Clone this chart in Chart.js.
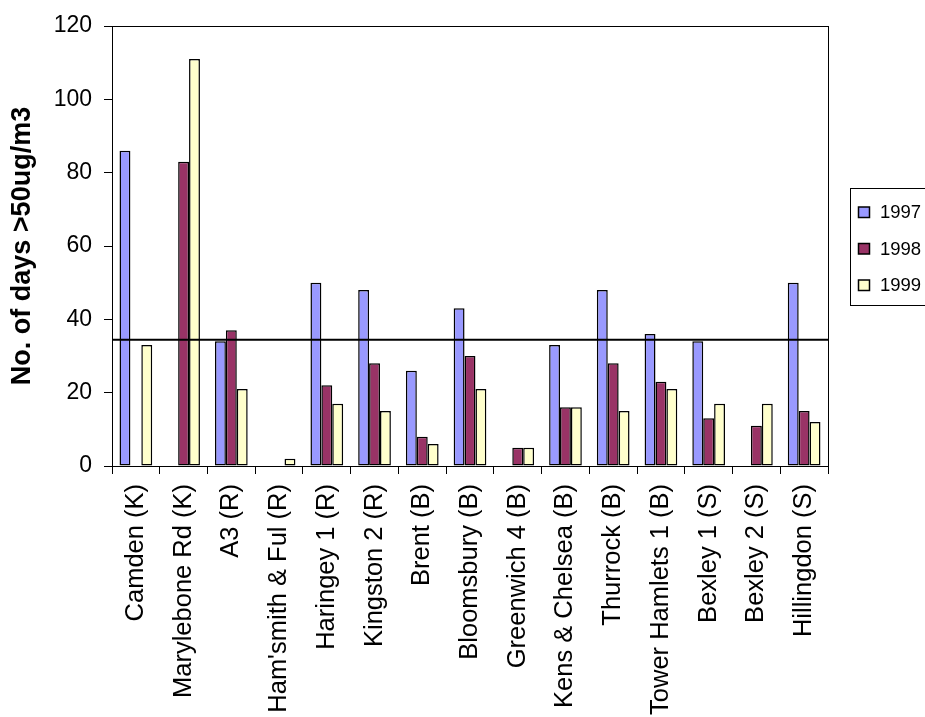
<!DOCTYPE html>
<html><head><meta charset="utf-8">
<script src="https://cdn.jsdelivr.net/npm/chart.js@4/dist/chart.umd.min.js"></script>
<style>html,body{margin:0;padding:0;background:#fff;overflow:hidden}canvas{display:block}</style>
</head><body>
<canvas id="c" width="925" height="717" style="width:925px;height:717px"></canvas>
<script>
const categories = ['Camden (K)', 'Marylebone Rd (K)', 'A3 (R)', "Ham'smith & Ful (R)", 'Haringey 1 (R)', 'Kingston 2 (R)', 'Brent (B)', 'Bloomsbury (B)', 'Greenwich 4 (B)', 'Kens & Chelsea (B)', 'Thurrock (B)', 'Tower Hamlets 1 (B)', 'Bexley 1 (S)', 'Bexley 2 (S)', 'Hillingdon (S)'];
const seriesNames = ['1997', '1998', '1999'];
const values1997 = [86, null, 34, null, 50, 48, 26, 43, null, 33, 48, 36, 34, null, 50];
const values1998 = [null, 83, 37, null, 22, 28, 8, 30, 5, 16, 28, 23, 13, 11, 15];
const values1999 = [33, 111, 21, 2, 17, 15, 6, 21, 5, 16, 15, 21, 17, 17, 12];
const limitValue = 34.4;
const yMin = 0, yMax = 120, yStep = 20;
const yTitle = 'No. of days >50ug/m3';

const colors = ['#9999FF', '#993366', '#FFFFCC'];
const FONT = "'Liberation Sans', Arial, sans-serif";

const limitLine = {
  id: 'limitLine',
  afterDatasetsDraw(chart) {
    const {ctx, chartArea: a, scales: {y}} = chart;
    const py = y.getPixelForValue(limitValue);
    ctx.save();
    ctx.strokeStyle = '#000';
    ctx.lineWidth = 2;
    ctx.beginPath();
    ctx.moveTo(a.left, py);
    ctx.lineTo(a.right, py);
    ctx.stroke();
    ctx.restore();
  }
};

const plotBorder = {
  id: 'plotBorder',
  afterDraw(chart) {
    const {ctx, chartArea: a} = chart;
    ctx.save();
    ctx.strokeStyle = '#000';
    ctx.lineWidth = 1;
    ctx.strokeRect(Math.round(a.left) + 0.5, Math.round(a.top) + 0.5, Math.round(a.right - a.left), Math.round(a.bottom - a.top));
    ctx.restore();
  }
};

const boxLegend = {
  id: 'boxLegend',
  afterDraw(chart) {
    const {ctx, chartArea: a} = chart;
    const left = Math.round(a.right) + 22;
    const h = 117;
    const top = Math.round((a.top + a.bottom) / 2 - h / 2);
    ctx.save();
    ctx.strokeStyle = '#000';
    ctx.lineWidth = 1;
    ctx.strokeRect(left + 0.5, top + 0.5, 100, h);
    ctx.font = '18.5px ' + FONT;
    ctx.textBaseline = 'middle';
    ctx.textAlign = 'left';
    chart.data.datasets.forEach((d, i) => {
      const cy = top + 24 + i * 36.5;
      ctx.fillStyle = d.backgroundColor;
      ctx.fillRect(left + 8.5, cy - 5, 11, 10.5);
      ctx.lineWidth = 1.5;
      ctx.strokeStyle = '#000';
      ctx.strokeRect(left + 8.5, cy - 5, 11, 10.5);
      ctx.fillStyle = '#000';
      ctx.fillText(d.label, left + 30, cy + 1);
    });
    ctx.restore();
  }
};

const barSeries = [values1997, values1998, values1999];
const datasets = barSeries.map((vals, i) => ({
  label: seriesNames[i],
  data: vals,
  backgroundColor: colors[i],
  borderColor: '#000',
  borderWidth: 1.5,
  borderSkipped: false,
  barPercentage: 1.0,
  categoryPercentage: 0.685
}));

Chart.defaults.font.family = FONT;
Chart.defaults.color = '#000';

new Chart(document.getElementById('c'), {
  type: 'bar',
  data: { labels: categories, datasets },
  options: {
    responsive: false,
    animation: false,
    devicePixelRatio: 1,
    layout: { padding: { left: 0, top: 26, right: 97, bottom: 0 } },
    plugins: { legend: { display: false }, tooltip: { enabled: false } },
    scales: {
      x: {
        type: 'category',
        offset: true,
        afterFit(s) { s.height = 251; },
        grid: { display: true, drawOnChartArea: false, drawTicks: true, tickLength: 8, color: '#000', offset: true },
        border: { display: true, color: '#000', width: 1 },
        ticks: { autoSkip: false, maxRotation: 90, minRotation: 90, padding: 10, font: { size: 25.5 }, color: '#000' }
      },
      y: {
        type: 'linear',
        min: yMin, max: yMax,
        afterFit(s) { s.width = 112; },
        grid: { display: true, drawOnChartArea: false, drawTicks: true, tickLength: 8, color: '#000' },
        border: { display: true, color: '#000', width: 1 },
        ticks: { stepSize: yStep, padding: 12, font: { size: 23 }, color: '#000' },
        title: { display: true, text: yTitle, font: { size: 27, weight: 'bold' }, color: '#000', padding: { top: 6, bottom: 0 } }
      }
    }
  },
  plugins: [limitLine, plotBorder, boxLegend]
});
</script>
</body></html>
